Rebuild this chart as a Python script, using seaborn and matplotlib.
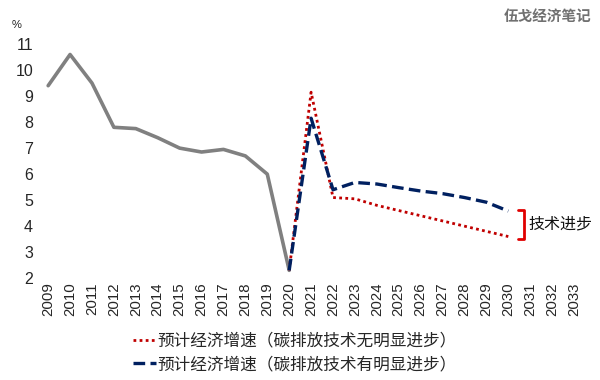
import matplotlib
matplotlib.use("Agg")
import matplotlib.pyplot as plt
import seaborn as sns

# actual growth 2009-2020
hist_years = list(range(2009, 2021))
hist_growth = [9.4, 10.6, 9.5, 7.8, 7.75, 7.4, 7.0, 6.85, 6.95, 6.7, 6.0, 2.3]

# forecasts 2020-2030
fc_years = list(range(2020, 2031))
fc_no_tech = [2.3, 9.15, 5.1, 5.05, 4.8, 4.6, 4.4, 4.2, 4.0, 3.8, 3.6]
fc_tech = [2.3, 8.15, 5.4, 5.68, 5.62, 5.48, 5.35, 5.25, 5.1, 4.92, 4.58]

tick_years = list(range(2009, 2034))
y_ticks = list(range(2, 12))

label_no_tech = "预计经济增速（碳排放技术无明显进步）"
label_tech = "预计经济增速（碳排放技术有明显进步）"

sns.set_theme(style="white")
plt.rcParams["font.family"] = ["Liberation Sans", "Noto Sans CJK SC", "DejaVu Sans"]

fig = plt.figure(figsize=(6, 3.8), dpi=100)
ax = fig.add_axes([0.062, 0.268, 0.913, 0.616])

sns.lineplot(x=hist_years, y=hist_growth, ax=ax, color="#808080", linewidth=2.6)
sns.lineplot(x=fc_years, y=fc_no_tech, ax=ax, color="#c00000", linewidth=2,
             linestyle=(0, (1, 1.2)), label=label_no_tech)
sns.lineplot(x=fc_years, y=fc_tech, ax=ax, color="#002060", linewidth=2.4,
             linestyle=(0, (3.5, 1.6)), label=label_tech)

ax.set_xlim(2008.5, 2033.5)
ax.set_ylim(2, 11)
ax.set_xticks(tick_years)
ax.set_xticklabels([str(y) for y in tick_years], rotation=90, fontsize=10.8)
ax.set_yticks(y_ticks)
ax.set_yticklabels([str(v) for v in y_ticks], fontsize=11.5)
ax.tick_params(axis="both", length=0, pad=3)
for s in ax.spines.values():
    s.set_visible(False)
for ln in ax.get_lines():
    ln.set_clip_on(False)

# bracket marking the gap in 2030
bx = 2030.45
ax.plot([bx, bx + 0.25, bx + 0.25, bx], [fc_tech[-1] + 0.05, fc_tech[-1] + 0.05,
        fc_no_tech[-1] - 0.08, fc_no_tech[-1] - 0.08],
        color="#e00000", linewidth=2, clip_on=False)
ax.text(2030.9, (fc_tech[-1] + fc_no_tech[-1]) / 2, "技术进步", fontsize=11.5,
        va="center", ha="left", color="#111111")

fig.text(0.02, 0.925, "%", fontsize=8, color="#222222")
fig.text(0.985, 0.955, "伍戈经济笔记", fontsize=10.5, color="#707070",
         ha="right", va="center", fontweight="bold")

ax.legend(loc="upper center", bbox_to_anchor=(0.47, -0.205), frameon=False,
          fontsize=12, handlelength=1.4, handletextpad=0.1, labelspacing=0.45,
          borderaxespad=0)

fig.savefig("out.png", dpi=100)
